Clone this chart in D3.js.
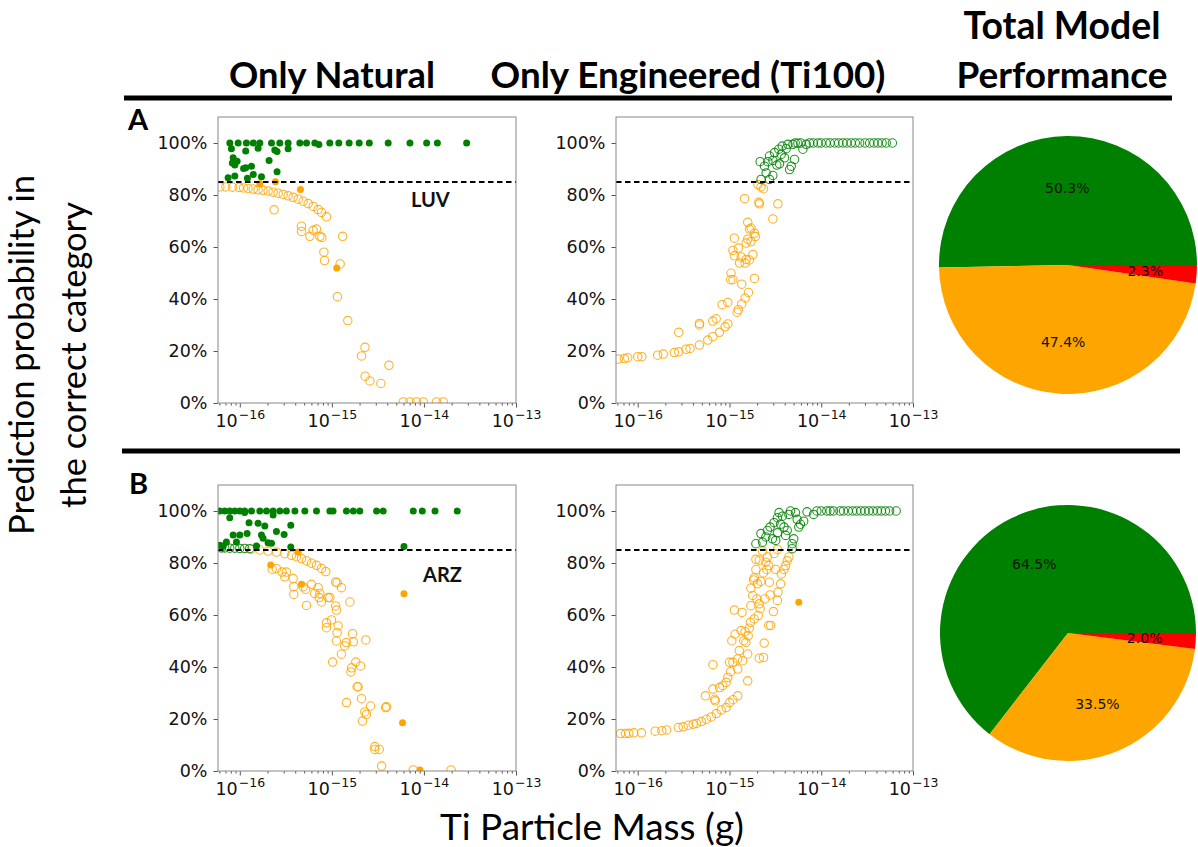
<!DOCTYPE html>
<html><head><meta charset="utf-8">
<script src="https://cdn.jsdelivr.net/npm/d3@7"></script>
<style>body{margin:0;background:#fff}</style>
</head><body>
<svg id="chart" width="1198" height="847"></svg>
<script>
// ---------- DATA ----------
const xTickValues = [1e-16, 1e-15, 1e-14, 1e-13];
const xTickExponents = ["\u221216", "\u221215", "\u221214", "\u221213"];
const yTickValues = [0, 20, 40, 60, 80, 100];
const threshold = 85;
const columnTitles = ["Only Natural", "Only Engineered (Ti100)"];
const pieTitle = ["Total Model", "Performance"];
const rowLetters = ["A", "B"];
const sampleNames = ["LUV", "ARZ"];
const pieCategories = ["Correct \u226585%", "Correct <85%", "Incorrect"];
const pieColors = ["#008000", "#ffa500", "#ff0000"];
const pieLUV = [50.3, 47.4, 2.3];
const pieARZ = [64.5, 33.5, 2.0];

// [mass (g), probability (%)]
const luvNatGreenFilled = [[7.8e-17,100],[9.6e-17,100],[1.18e-16,100],[1.40e-16,100],[1.65e-16,100],[2.21e-16,100],[2.72e-16,100],[3.35e-16,100],[4.49e-16,100],[5.31e-16,100],[6.53e-16,100],[7.23e-16,99.4],[9.5e-16,100],[1.19e-15,100],[1.54e-15,100],[1.98e-15,100],[2.55e-15,100],[4.09e-15,100],[7.05e-15,100],[1.07e-14,100],[1.40e-14,100],[2.91e-14,100],
[8.11e-17,97.8],[1.16e-16,96.9],[1.58e-16,98.0],[2.40e-16,97.3],[2.54e-16,96.7],[3.35e-16,97.8],[8.47e-17,94.3],[9.35e-17,93.0],[8.3e-17,92.3],[8.83e-17,91.5],[1.16e-16,90.5],[1.10e-16,90.2],[1.34e-16,91.1],[2.08e-16,93.3],[2.54e-16,88.9],[7.47e-17,86.6],[8.83e-17,87.3],[1.21e-16,86.4],[1.40e-16,87.9],[1.72e-16,87.0]];
const luvNatOrangeFilled = [[1.65e-16,84.3],[2.44e-16,85.1],[4.56e-16,82.1],[1.13e-15,51.9]];
const luvNatOrangeOpen = [[6.07e-17,83.1],[7.05e-17,83.1],[8.32e-17,83.0],[9.84e-17,82.9],[1.10e-16,82.7],[1.23e-16,82.5],[1.40e-16,82.3],[1.58e-16,82.0],[1.79e-16,81.8],[2.03e-16,81.5],[2.30e-16,81.1],[2.61e-16,80.7],[2.96e-16,80.2],[3.35e-16,79.7],[3.80e-16,79.1],[4.31e-16,78.4],[4.88e-16,77.6],[5.53e-16,76.7],[6.27e-16,75.6],[7.10e-16,74.4],[7.72e-16,73.3],[8.75e-16,71.6],
[2.36e-16,74.3],[4.68e-16,68.0],[4.68e-16,66.0],[5.77e-16,64.1],[6.27e-16,66.4],[6.81e-16,66.9],[7.41e-16,64.1],[7.79e-16,63.7],[8.19e-16,58.0],[8.32e-16,54.8],[1.31e-15,64.1],[1.23e-15,53.5],[1.15e-15,40.9],[1.49e-15,31.7],[2.29e-15,21.4],[2.10e-15,18.1],[2.30e-15,10.3],[2.59e-15,8.5],[3.41e-15,7.5],[4.17e-15,14.5],[5.96e-15,0.4],[7.05e-15,0.4],[8.32e-15,0.4],[9.84e-15,0.4],[1.37e-14,0.4],[1.62e-14,0.4]];

const luvEngOrangeOpen = [[6.15e-17,16.9],[7.16e-17,17.1],[7.78e-17,17.4],[1.0e-16,17.8],[1.11e-16,17.8],[1.65e-16,18.4],[1.90e-16,18.8],[2.51e-16,19.4],[2.80e-16,19.7],[3.36e-16,20.7],[3.72e-16,21.0],[2.80e-16,27.2],[4.71e-16,22.3],[4.71e-16,30.6],[4.71e-16,30.0],[5.80e-16,24.2],[6.58e-16,25.5],[6.58e-16,31.5],[7.16e-16,32.4],[7.78e-16,27.2],[8.32e-16,37.8],[8.97e-16,29.3],[9.60e-16,38.7],[9.60e-16,30.4],[1.03e-15,47.4],[1.09e-15,47.4],[1.04e-15,49.9],[1.13e-15,63.4],[1.09e-15,58.7],[1.13e-15,56.6],[1.25e-15,59.6],[1.29e-15,53.8],[1.21e-15,34.9],[1.25e-15,35.9],[1.36e-15,45.7],[1.36e-15,38.1],[1.46e-15,78.6],[1.48e-15,40.3],[1.34e-15,56.2],[1.48e-15,53.8],[1.52e-15,55.2],[1.58e-15,63.0],[1.61e-15,42.5],[1.58e-15,69.5],[1.65e-15,66.9],[1.72e-15,67.3],[1.80e-15,57.1],[1.87e-15,65.3],[1.91e-15,64.0],[1.87e-15,47.9],[2.04e-15,84.0],[2.09e-15,77.2],[2.12e-15,76.6],[2.21e-15,83.1],[2.35e-15,82.4],[2.97e-15,70.8],[3.37e-15,76.6],[1.72e-15,62.1],[1.65e-15,55.0],[1.52e-15,61.5]];
const luvEngGreenOpen = [[2.16e-15,92.8],[2.21e-15,86.0],[2.41e-15,91.1],[2.51e-15,88.5],[2.62e-15,92.8],[2.73e-15,95.0],[2.73e-15,86.0],[2.97e-15,93.3],[2.97e-15,87.5],[3.10e-15,96.3],[3.28e-15,91.5],[3.45e-15,97.6],[3.51e-15,92.0],[3.66e-15,95.6],[3.76e-15,98.8],[3.98e-15,94.3],[4.15e-15,97.8],[4.33e-15,99.5],[4.52e-15,89.8],[4.71e-15,91.1],[4.91e-15,99.5],[5.12e-15,93.7],[5.56e-15,99.9],[6.31e-15,97.6],[6.86e-15,99.5],[7.46e-15,100],[9.20e-15,100],[1.13e-14,100],[1.40e-14,100],[1.72e-14,100],[2.12e-14,100],[2.62e-14,100],[3.37e-14,100],[4.15e-14,100],[5.12e-14,100],[5.96e-14,100],
[5.2e-15,100],[6.0e-15,100],[8.2e-15,100],[1.0e-14,100],[1.25e-14,100],[1.55e-14,100],[1.9e-14,100],[2.35e-14,100],[3.0e-14,100],[3.75e-14,100],[4.6e-14,100]];

const arzNatGreenFilled = [[6.07e-17,100],[6.87e-17,100],[7.78e-17,100],[8.83e-17,100],[1.0e-16,100],[1.13e-16,100],[1.34e-16,100],[1.65e-16,100],[1.95e-16,100],[2.30e-16,100],[2.72e-16,100],[3.21e-16,100],[3.97e-16,100],[5.09e-16,100],[6.81e-16,100],[9.51e-16,100],[1.03e-15,100],[1.44e-15,100],[1.71e-15,100],[2.01e-15,100],[3.06e-15,100],[3.61e-15,100],[7.66e-15,100],[9.60e-15,100],[1.32e-14,100],[2.30e-14,100],
[7.78e-17,97.4],[1.26e-16,95.5],[1.13e-16,99.4],[1.58e-16,95.3],[1.87e-16,94.2],[2.30e-16,98.5],[2.50e-16,92.1],[3.03e-16,91.0],[3.58e-16,94.5],[8.47e-17,90.8],[1.0e-16,90.8],[1.20e-16,91.3],[1.79e-16,89.5],[1.72e-16,90.8],[7.16e-17,88.1],[9.20e-17,88.1],[2.03e-16,87.8],[2.21e-16,87.6],[1.52e-16,86.5],[3.58e-16,86.2],[6.07e-15,86.3],[6.07e-17,86.8],[6.59e-17,86.5]];
const arzNatGreenOpen = [[6.3e-17,85.8],[6.87e-17,85.8],[7.78e-17,85.7],[8.83e-17,85.7],[1.0e-16,85.6],[1.13e-16,85.6],[1.28e-16,85.5]];
const arzNatOrangeFilled = [[2.17e-16,79.2],[4.68e-16,71.8],[4.31e-16,84.2],[6.07e-15,68.2],[5.86e-15,18.6],[9.06e-15,0.4]];
const arzNatOrangeOpen = [[1.34e-16,85.3],[1.65e-16,85.0],[2.03e-16,84.6],[2.50e-16,84.2],[3.08e-16,83.6],[3.65e-16,82.9],[4.13e-16,82.4],[4.68e-16,81.7],[5.31e-16,80.8],[6.01e-16,79.9],[6.81e-16,79.1],[7.72e-16,77.9],[8.61e-16,76.7],
[2.25e-16,77.6],[2.50e-16,77.8],[2.88e-16,76.5],[3.08e-16,74.7],[3.21e-16,76.5],[3.80e-16,74.0],[3.86e-16,70.9],[3.86e-16,67.9],[4.88e-16,70.9],[5.18e-16,69.9],[5.31e-16,63.7],[6.01e-16,71.8],[6.53e-16,68.3],[7.10e-16,70.5],[7.41e-16,68.3],[7.28e-16,66.7],[7.72e-16,65.0],[9.12e-16,66.7],[9.51e-16,66.7],[8.75e-16,57.0],[8.75e-16,55.1],[9.91e-16,58.1],[1.10e-15,72.7],[1.14e-15,72.4],[1.10e-15,63.5],[1.12e-15,61.9],[1.17e-15,55.8],[1.14e-15,53.2],[1.12e-15,50.0],[1.27e-15,70.5],[1.02e-15,41.9],[1.27e-15,44.9],[1.38e-15,48.1],[1.44e-15,49.4],[1.44e-15,26.3],[1.57e-15,65.0],[1.64e-15,39.7],[1.61e-15,38.1],[1.68e-15,52.8],[1.71e-15,49.7],[1.82e-15,41.9],[1.88e-15,32.4],[1.93e-15,32.4],[2.05e-15,40.4],[2.10e-15,27.8],[2.15e-15,19.2],[2.28e-15,22.7],[2.38e-15,21.8],[2.34e-15,50.4],[2.63e-15,25.0],[3.83e-15,24.4],[3.93e-15,24.7],[2.93e-15,9.4],[2.93e-15,8.3],[3.27e-15,8.3],[3.47e-15,1.9],[7.66e-15,0.4],[1.97e-14,0.4]];

const arzEngOrangeOpen = [[6.50e-17,14.4],[7.36e-17,14.4],[8.00e-17,14.5],[9.06e-17,14.7],[1.10e-16,14.7],[1.55e-16,15.3],[1.83e-16,15.5],[2.07e-16,15.8],[2.77e-16,16.7],[3.13e-16,17.0],[3.55e-16,17.6],[4.02e-16,18.0],[4.37e-16,18.3],[4.94e-16,19.0],[5.60e-16,19.9],[6.34e-16,20.8],[7.18e-16,22.1],[8.13e-16,23.5],[9.20e-16,24.4],[1.0e-15,26.3],[1.09e-15,27.4],[1.23e-15,28.9],
[5.46e-16,28.9],[6.61e-16,40.9],[6.61e-16,31.5],[6.89e-16,27.6],[7.00e-16,27.0],[7.80e-16,32.1],[8.47e-16,32.8],[9.20e-16,34.1],[9.59e-16,36.0],[1.0e-15,41.8],[1.03e-15,38.2],[1.06e-15,50.1],[1.09e-15,41.8],[1.13e-15,61.9],[1.15e-15,52.6],[1.23e-15,39.2],[1.23e-15,43.1],[1.28e-15,46.3],[1.34e-15,54.0],[1.37e-15,61.0],[1.39e-15,42.4],[1.43e-15,50.1],[1.48e-15,53.6],[1.51e-15,49.5],[1.58e-15,34.7],[1.58e-15,45.0],[1.60e-15,52.0],[1.64e-15,54.9],[1.69e-15,57.2],[1.71e-15,63.6],[1.71e-15,70.3],[1.79e-15,67.5],[1.83e-15,73.5],[1.86e-15,74.3],[1.86e-15,58.5],[1.94e-15,81.4],[1.94e-15,77.5],[1.99e-15,66.2],[2.02e-15,72.0],[2.06e-15,59.8],[2.11e-15,81.1],[2.11e-15,64.3],[2.16e-15,62.4],[2.20e-15,72.9],[2.29e-15,84.6],[2.35e-15,76.2],[2.43e-15,66.2],[2.49e-15,80.3],[2.55e-15,77.5],[2.59e-15,82.3],[2.68e-15,79.0],[2.72e-15,72.6],[2.77e-15,67.7],[2.82e-15,56.0],[3.01e-15,61.3],[2.39e-15,49.2],[2.35e-15,43.7],[2.11e-15,43.4],[2.68e-15,56.0],[3.06e-15,83.7],[3.19e-15,77.5],[3.33e-15,85.2],[3.33e-15,65.6],[3.38e-15,68.8],[3.61e-15,72.0],[3.67e-15,75.8],[3.93e-15,77.5],[4.09e-15,79.0],[4.26e-15,80.9],[4.44e-15,82.3]];
const arzEngOrangeFilled = [[5.69e-15,64.9]];
const arzEngGreenOpen = [[1.94e-15,87.4],[2.20e-15,91.3],[2.29e-15,88.0],[2.49e-15,90.0],[2.59e-15,92.5],[2.77e-15,93.8],[2.94e-15,89.3],[3.06e-15,95.5],[3.19e-15,88.7],[3.33e-15,97.4],[3.33e-15,91.6],[3.47e-15,99.4],[3.61e-15,94.9],[3.77e-15,98.0],[3.93e-15,93.8],[4.09e-15,90.6],[4.26e-15,92.5],[4.44e-15,98.7],[4.82e-15,87.4],[5.02e-15,89.3],[5.24e-15,99.4],[5.46e-15,96.8],[5.69e-15,93.8],[5.93e-15,94.9],[6.44e-15,96.1],[7.00e-15,99.7],[8.26e-15,98.7],[8.97e-15,100],[1.15e-14,100],[1.36e-14,100],[1.60e-14,100],[1.97e-14,100],[2.43e-14,100],[2.99e-14,100],[3.67e-14,100],[4.52e-14,100],[5.56e-14,100],[6.56e-14,100],[4.82e-15,85.5],[4.63e-15,100],[1.0e-14,100],[1.25e-14,100],[1.75e-14,100],[2.2e-14,100],[2.7e-14,100],[3.3e-14,100],[4.1e-14,100],[5.0e-14,100]];

// ---------- DRAWING ----------
const svg = d3.select("#chart");
const GREEN = "#008000", ORANGE = "#ffa500";
const tickFont = "'DejaVu Sans', sans-serif";
const bigFont = "Lato, 'Open Sans', sans-serif";
const xDomain = [5.8e-17, 1e-13];

function fitText(sel, w) {
  const cur = sel.node().getComputedTextLength();
  const fs = parseFloat(sel.attr("font-size"));
  sel.attr("font-size", fs * w / cur);
}

const panels = [
  {box:{x0:218,x1:516,y0:117,y1:403}, layers:[
     {data:luvNatOrangeOpen, color:ORANGE, filled:false},
     {data:luvNatGreenFilled, color:GREEN, filled:true},
     {data:luvNatOrangeFilled, color:ORANGE, filled:true}], tag:sampleNames[0], tagX:411, tagY:207},
  {box:{x0:616,x1:913,y0:117,y1:403}, layers:[
     {data:luvEngOrangeOpen, color:ORANGE, filled:false},
     {data:luvEngGreenOpen, color:GREEN, filled:false}]},
  {box:{x0:218,x1:516,y0:485,y1:771}, layers:[
     {data:arzNatOrangeOpen, color:ORANGE, filled:false},
     {data:arzNatGreenFilled, color:GREEN, filled:true},
     {data:arzNatGreenOpen, color:GREEN, filled:false},
     {data:arzNatOrangeFilled, color:ORANGE, filled:true}], tag:sampleNames[1], tagX:423, tagY:582},
  {box:{x0:616,x1:913,y0:485,y1:771}, layers:[
     {data:arzEngOrangeOpen, color:ORANGE, filled:false},
     {data:arzEngGreenOpen, color:GREEN, filled:false},
     {data:arzEngOrangeFilled, color:ORANGE, filled:true}]}
];

panels.forEach((p, i) => {
  const b = p.box;
  const x = d3.scaleLog().domain(xDomain).range([b.x0, b.x1]);
  const y = d3.scaleLinear().domain([0, 110]).range([b.y1, b.y0]);
  const g = svg.append("g");
  const clipId = "clip" + i;
  g.append("clipPath").attr("id", clipId).append("rect")
    .attr("x", b.x0).attr("y", b.y0).attr("width", b.x1 - b.x0).attr("height", b.y1 - b.y0);

  // minor ticks
  const minor = x.ticks().filter(v => Math.abs(Math.log10(v) - Math.round(Math.log10(v))) > 1e-6);
  g.append("g").attr("transform", `translate(0,${b.y1})`)
    .call(d3.axisBottom(x).tickValues(minor).tickSize(2.5).tickFormat(""))
    .call(s => s.select(".domain").remove())
    .selectAll("line").attr("stroke", "#555");
  // major x
  const xa = g.append("g").attr("transform", `translate(0,${b.y1})`)
    .call(d3.axisBottom(x).tickValues(xTickValues).tickSize(4.5).tickPadding(5).tickFormat(""));
  xa.select(".domain").remove();
  xa.selectAll("line").attr("stroke", "#555");
  xa.selectAll(".tick text").each(function(d, k) {
    const t = d3.select(this).attr("font-family", tickFont).attr("fill", "#111")
      .attr("y", 24).attr("dy", null);
    t.append("tspan").attr("font-size", 17.5).text("10");
    t.append("tspan").attr("font-size", 12.5).attr("dx", 1).attr("dy", -8).text(xTickExponents[k]);
  });
  // y axis
  const ya = g.append("g").attr("transform", `translate(${b.x0},0)`)
    .call(d3.axisLeft(y).tickValues(yTickValues).tickSize(4.5).tickPadding(6).tickFormat(d => d + "%"));
  ya.select(".domain").remove();
  ya.selectAll("line").attr("stroke", "#555");
  ya.selectAll("text").attr("font-family", tickFont).attr("font-size", 17.5).attr("fill", "#111");

  // points
  const pg = g.append("g").attr("clip-path", `url(#${clipId})`);
  p.layers.forEach(L => {
    pg.append("g").selectAll("circle").data(L.data).join("circle")
      .attr("cx", d => x(d[0])).attr("cy", d => y(d[1]))
      .attr("r", L.filled ? 3.5 : 4.2)
      .attr("fill", L.filled ? L.color : "none")
      .attr("stroke", L.filled ? "none" : L.color)
      .attr("stroke-opacity", 0.85)
      .attr("stroke-width", 1.1);
  });
  // threshold line
  g.append("line").attr("x1", b.x0).attr("x2", b.x1)
    .attr("y1", y(threshold)).attr("y2", y(threshold))
    .attr("stroke", "#000").attr("stroke-width", 1.8).attr("stroke-dasharray", "5.5,3.5");
  // frame
  g.append("rect").attr("x", b.x0).attr("y", b.y0).attr("width", b.x1 - b.x0).attr("height", b.y1 - b.y0)
    .attr("fill", "none").attr("stroke", "#888").attr("stroke-width", 1);
  if (p.tag) {
    g.append("text").attr("x", p.tagX).attr("y", p.tagY).attr("font-family", bigFont)
      .attr("font-weight", 700).attr("font-size", 20).attr("fill", "#111").text(p.tag);
  }
});

// pies
const pies = [{vals: pieLUV, cx: 1068, cy: 265, r: 129}, {vals: pieARZ, cx: 1068, cy: 633, r: 128}];
pies.forEach(P => {
  const pie = d3.pie().sort(null).startAngle(Math.PI / 2).endAngle(Math.PI / 2 - 2 * Math.PI);
  const arcs = pie(P.vals);
  const arc = d3.arc().innerRadius(0).outerRadius(P.r);
  const lab = d3.arc().innerRadius(P.r * 0.6).outerRadius(P.r * 0.6);
  const g = svg.append("g").attr("transform", `translate(${P.cx},${P.cy})`);
  g.selectAll("path").data(arcs).join("path").attr("d", arc).attr("fill", (d, i) => pieColors[i]);
  g.selectAll("text").data(arcs).join("text")
    .attr("transform", d => `translate(${lab.centroid(d)})`)
    .attr("text-anchor", "middle").attr("dominant-baseline", "central")
    .attr("font-family", tickFont).attr("font-size", 14).attr("fill", "#111")
    .text(d => d.data.toFixed(1) + "%");
});

// separators
svg.append("line").attr("x1", 124).attr("x2", 1172).attr("y1", 98).attr("y2", 98)
  .attr("stroke", "#000").attr("stroke-width", 5);
svg.append("line").attr("x1", 122).attr("x2", 1180).attr("y1", 451).attr("y2", 451)
  .attr("stroke", "#000").attr("stroke-width", 5);

// headers
function header(txt, cx, yb, w) {
  const t = svg.append("text").attr("x", cx).attr("y", yb).attr("text-anchor", "middle")
    .attr("font-family", bigFont).attr("font-weight", 700).attr("font-size", 36).attr("fill", "#000").text(txt);
  fitText(t, w);
}
header(columnTitles[0], 332, 88, 206);
header(columnTitles[1], 688, 88, 395);
header(pieTitle[0], 1062, 39, 197);
header(pieTitle[1], 1062, 88, 211);

svg.append("text").attr("x", 128).attr("y", 130).attr("font-family", bigFont).attr("font-weight", 700)
  .attr("font-size", 29).text(rowLetters[0]);
svg.append("text").attr("x", 129).attr("y", 494).attr("font-family", bigFont).attr("font-weight", 700)
  .attr("font-size", 29).text(rowLetters[1]);

// axis titles
const yl1 = svg.append("text").attr("transform", "translate(34,355) rotate(-90)").attr("text-anchor", "middle")
  .attr("font-family", bigFont).attr("font-size", 30).attr("fill", "#000").text("Prediction probability in");
fitText(yl1, 360);
const yl2 = svg.append("text").attr("transform", "translate(86,355) rotate(-90)").attr("text-anchor", "middle")
  .attr("font-family", bigFont).attr("font-size", 30).attr("fill", "#000").text("the correct category");
fitText(yl2, 306);
const xl = svg.append("text").attr("x", 592).attr("y", 840).attr("text-anchor", "middle")
  .attr("font-family", bigFont).attr("font-size", 32).attr("fill", "#000").text("Ti Particle Mass (g)");
fitText(xl, 304);
</script>
</body></html>
